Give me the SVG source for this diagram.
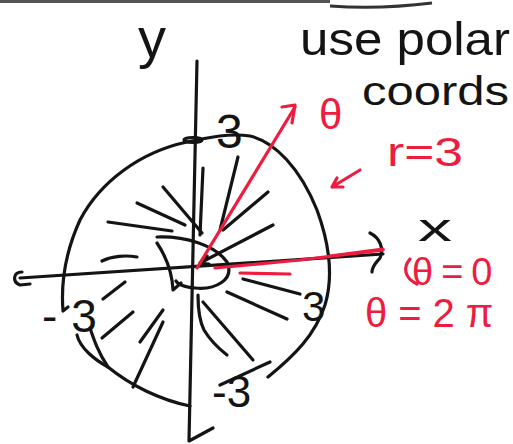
<svg xmlns="http://www.w3.org/2000/svg" width="513" height="444" viewBox="0 0 513 444">
<style>
.k{fill:none;stroke:#141414;stroke-width:3.2;stroke-linecap:round;stroke-linejoin:round}
.r{fill:none;stroke:#ee1c3e;stroke-width:3.2;stroke-linecap:round;stroke-linejoin:round}
.t{font-family:"Liberation Sans",Arial,sans-serif;fill:#141414}
.tr{font-family:"Liberation Sans",Arial,sans-serif;fill:#ee1c3e}
</style>
<rect width="513" height="444" fill="#ffffff"/>
<g id="page-edge">
<path d="M0,1.5 L330,1.5" stroke="#555" stroke-width="3" fill="none"/>
<path d="M330,6 C360,8 400,7 432,3" stroke="#333" stroke-width="3" fill="none"/>
</g>
<g id="axes">
<path class="k" d="M197,61 L193,250 L189,441 L213,428"/>
<path class="k" d="M383,254 L20,278"/>
<path class="k" d="M22,272 C13,272 12,282 20,285 L30,284"/>
<path class="k" d="M370,233 C380,238 384,248 380,258 C376,263 372,266 372,272"/>
</g>
<g id="circle">
<path class="k" d="M68,307 L63,311 C61,285 64,255 80,220 C100,182 140,152 187,142 C210,137 230,133 250,136 C275,142 300,168 317,210 C328,240 334,275 325,305 C315,335 295,355 268,377"/>
<ellipse cx="193" cy="140" rx="9" ry="2.5" class="k" stroke-width="2.5"/>
<path class="k" d="M77,335 C80,348 95,360 108,367 C130,385 160,400 190,406"/>
<path class="k" d="M90,328 C94,340 98,352 108,367"/>
<path class="k" d="M220,385 L270,362"/>
</g>
<g id="rays">
<path class="k" d="M238,157 L220,230"/>
<path class="k" d="M268,192 L223,230"/>
<path class="k" d="M163,187 L202,233"/>
<path class="k" d="M137,203 L185,225"/>
<path class="k" d="M108,222 L172,231"/>
<path class="k" d="M203,168 L200,235"/>
<path class="k" d="M273,225 L200,263 M200,263 L207,256 M200,263 L209,264"/>
<path class="k" d="M102,261 C112,256 126,255 137,257"/>
<path class="k" d="M103,299 L125,282"/>
<path class="k" d="M102,338 L133,312"/>
<path class="k" d="M140,342 L163,310"/>
<path class="k" d="M133,387 L163,322"/>
<path class="k" d="M198,295 C198,310 200,322 204,330 C210,340 218,348 227,355"/>
<path class="k" d="M203,302 L253,360"/>
<path class="k" d="M227,292 L287,319"/>
<path class="k" d="M243,279 L300,294"/>
<path class="k" d="M157,237 C185,236 215,245 227,262 C235,280 215,290 195,288 C185,287 178,285 176,281"/>
<path class="k" d="M157,243 C165,255 172,270 173,290 L181,283"/>
</g>
<g id="red-marks">
<path class="r" d="M197,268 L295,107"/>
<path class="r" d="M282,107 L295,105 L292,123"/>
<path class="r" d="M215,268 L300,260 L383,250" stroke-width="3.6"/>
<path class="r" d="M330,256 L383,249" stroke-width="5"/>
<path class="r" d="M240,273 L290,274"/>
<path class="r" d="M360,170 L332,187 M332,187 L337,178 M332,187 L343,187"/>
<path class="r" d="M410,259 C403,267 404,278 417,284"/>
</g>
<g id="labels">
<text class="t" x="138" y="57" font-size="56">y</text>
<text class="t" x="300" y="55" font-size="46" textLength="210" lengthAdjust="spacingAndGlyphs">use polar</text>
<text class="t" x="362" y="105" font-size="40" textLength="147" lengthAdjust="spacingAndGlyphs">coords</text>
<text class="t" x="418" y="241" font-size="38" textLength="34" lengthAdjust="spacingAndGlyphs">x</text>
<text class="t" x="216" y="148" font-size="48">3</text>
<text class="t" x="302" y="321" font-size="42">3</text>
<text class="t" x="42" y="332" font-size="46">-<tspan dx="14">3</tspan></text>
<text class="t" x="212" y="407" font-size="44">-3</text>
<text class="tr" x="319" y="129" font-size="42">θ</text>
<text class="tr" x="387" y="166" font-size="40" textLength="76" lengthAdjust="spacingAndGlyphs">r=3</text>
<text class="tr" x="412" y="285" font-size="38" letter-spacing="8">θ=0</text>
<text class="tr" x="365" y="327" font-size="40" letter-spacing="11">θ=2π</text>
</g>
</svg>
